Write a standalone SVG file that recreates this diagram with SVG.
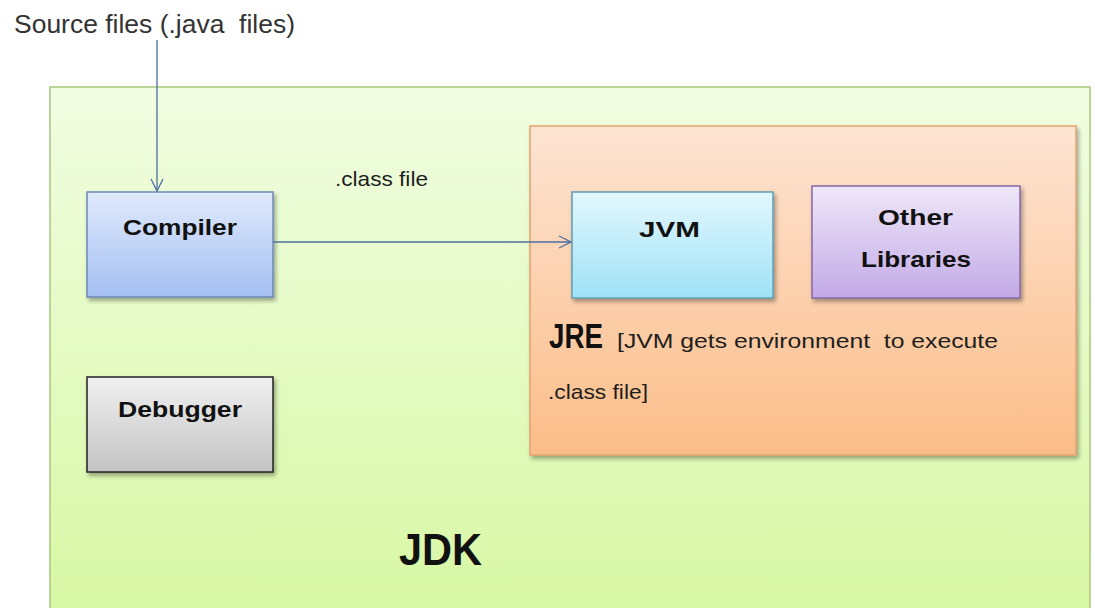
<svg xmlns="http://www.w3.org/2000/svg" width="1095" height="608" viewBox="0 0 1095 608">
<defs>
  <linearGradient id="gJdk" x1="0" y1="0" x2="0" y2="1">
    <stop offset="0" stop-color="#f1fde2"/>
    <stop offset="1" stop-color="#d6f7a0"/>
  </linearGradient>
  <linearGradient id="gJre" x1="0" y1="0" x2="0" y2="1">
    <stop offset="0" stop-color="#fde4d3"/>
    <stop offset="1" stop-color="#fbbd88"/>
  </linearGradient>
  <linearGradient id="gComp" x1="0" y1="0" x2="0" y2="1">
    <stop offset="0" stop-color="#e0eafc"/>
    <stop offset="1" stop-color="#a4bff2"/>
  </linearGradient>
  <linearGradient id="gJvm" x1="0" y1="0" x2="0" y2="1">
    <stop offset="0" stop-color="#e3f7fd"/>
    <stop offset="1" stop-color="#9ee2f7"/>
  </linearGradient>
  <linearGradient id="gOther" x1="0" y1="0" x2="0" y2="1">
    <stop offset="0" stop-color="#efe7f9"/>
    <stop offset="1" stop-color="#c2aae6"/>
  </linearGradient>
  <linearGradient id="gDbg" x1="0" y1="0" x2="0" y2="1">
    <stop offset="0" stop-color="#f0f0f0"/>
    <stop offset="1" stop-color="#c4c4c4"/>
  </linearGradient>
  <filter id="shadow" x="-10%" y="-10%" width="130%" height="130%">
    <feDropShadow dx="2" dy="3" stdDeviation="2" flood-color="#000" flood-opacity="0.35"/>
  </filter>
  <marker id="arrow" viewBox="0 0 14 14" refX="13" refY="7" markerWidth="14" markerHeight="14" markerUnits="userSpaceOnUse" orient="auto">
    <path d="M1,1 L13,7 L1,13" fill="none" stroke="#4a6fa0" stroke-width="1.3"/>
  </marker>
</defs>
<style>
  .lbl { font-family: "Liberation Sans", Arial, sans-serif; font-weight: bold; fill: #111; }
  .plain { font-family: "Liberation Sans", Arial, sans-serif; fill: #1e1e1e; white-space: pre; }
  .conn { stroke: #4a6fa0; stroke-width: 1.3; fill: none; marker-end: url(#arrow); }
</style>
<rect width="1095" height="608" fill="#ffffff"/>
<text class="plain" x="14" y="33" font-size="25" style="fill:#333" textLength="281" lengthAdjust="spacingAndGlyphs">Source files (.java  files)</text>

<g id="jdk">
  <rect x="50" y="87" width="1040" height="560" fill="url(#gJdk)" stroke="#a8c87e" stroke-width="1.5"/>
  <text class="lbl" x="399" y="565" font-size="45" textLength="83" lengthAdjust="spacingAndGlyphs">JDK</text>
</g>

<g id="jre">
  <rect x="530" y="126" width="546" height="329" fill="url(#gJre)" stroke="#e3a26e" stroke-width="1.5" filter="url(#shadow)"/>
  <text class="lbl" x="549" y="348" font-size="35" textLength="54" lengthAdjust="spacingAndGlyphs">JRE</text>
  <text class="plain" x="617" y="348" font-size="21" textLength="381" lengthAdjust="spacingAndGlyphs">[JVM gets environment  to execute</text>
  <text class="plain" x="548" y="399" font-size="21" textLength="100" lengthAdjust="spacingAndGlyphs">.class file]</text>
</g>

<g id="compiler">
  <rect x="87" y="192" width="186" height="105" fill="url(#gComp)" stroke="#6d89b8" stroke-width="1.5" filter="url(#shadow)"/>
  <text class="lbl" x="123" y="235" font-size="22" textLength="114" lengthAdjust="spacingAndGlyphs">Compiler</text>
</g>

<g id="jvm">
  <rect x="572" y="192" width="201" height="106" fill="url(#gJvm)" stroke="#5c9fb5" stroke-width="1.5" filter="url(#shadow)"/>
  <text class="lbl" x="639" y="237" font-size="22" textLength="61" lengthAdjust="spacingAndGlyphs">JVM</text>
</g>

<g id="other">
  <rect x="812" y="186" width="208" height="112" fill="url(#gOther)" stroke="#8468a6" stroke-width="1.5" filter="url(#shadow)"/>
  <text class="lbl" x="878" y="225" font-size="22" textLength="75" lengthAdjust="spacingAndGlyphs">Other</text>
  <text class="lbl" x="861" y="267" font-size="22" textLength="110" lengthAdjust="spacingAndGlyphs">Libraries</text>
</g>

<g id="debugger">
  <rect x="87" y="377" width="186" height="95" fill="url(#gDbg)" stroke="#222" stroke-width="1.5" filter="url(#shadow)"/>
  <text class="lbl" x="118" y="417" font-size="22" textLength="124" lengthAdjust="spacingAndGlyphs">Debugger</text>
</g>

<text class="plain" x="335" y="186" font-size="21" textLength="93" lengthAdjust="spacingAndGlyphs">.class file</text>

<g id="connectors">
  <line class="conn" x1="157" y1="40" x2="157" y2="191"/>
  <line class="conn" x1="273" y1="242" x2="571" y2="242"/>
</g>
</svg>
